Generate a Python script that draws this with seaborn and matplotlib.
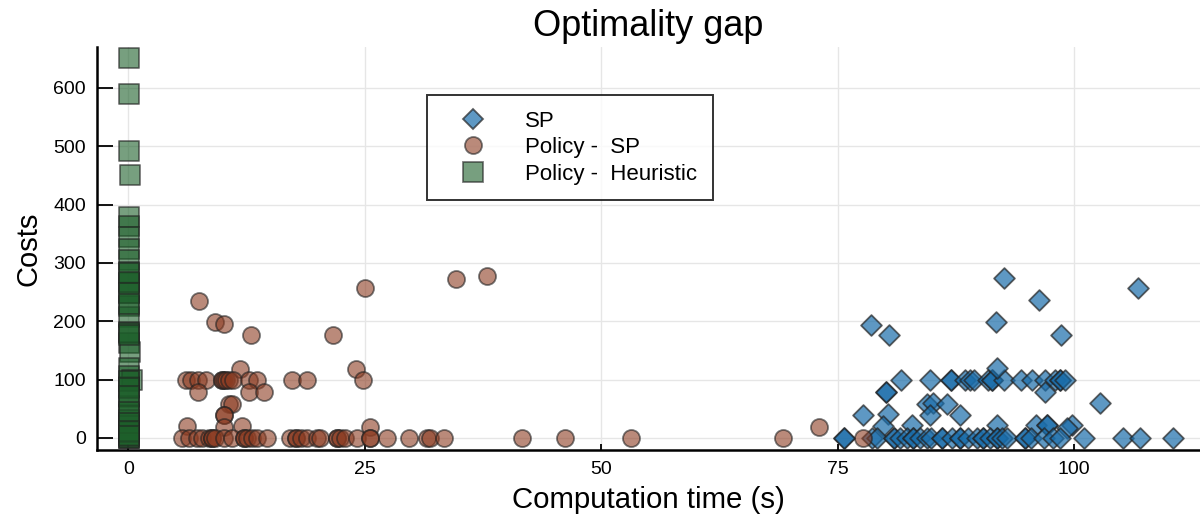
import matplotlib
matplotlib.use("Agg")
import matplotlib.pyplot as plt
from matplotlib.lines import Line2D
import pandas as pd
import seaborn as sns

# Stochastic programming solves: computation time (s) and cost gap
sp_time = [92.6, 106.7, 96.3, 78.5, 91.7, 80.4, 98.6,
           81.7, 84.7, 87.0, 87.0, 88.5, 89.0, 89.4, 90.9, 91.3, 91.3, 92.6, 94.4, 95.5,
           96.9, 98.0, 98.5, 98.5, 99.0,
           91.8, 80.1, 80.1, 96.9, 102.7, 84.4, 85.1, 86.5, 84.8, 87.9, 77.7, 80.3,
           79.8, 82.9, 91.8, 96.0, 97.1, 97.1, 99.8, 99.2,
           75.7, 75.7, 78.6, 79.1, 80.9, 80.9, 81.6, 82.3, 83.0, 83.0, 83.7, 84.4, 84.9,
           86.0, 86.0, 87.1, 87.9, 87.9, 88.8, 89.7, 90.4, 90.4, 91.1, 91.8, 91.8, 92.4,
           92.9, 94.8, 94.8, 95.4, 96.8, 97.8, 98.5, 101.0, 105.2, 107.0, 110.4]
sp_cost = [274, 257, 236, 194, 198, 177, 177,
           100, 100, 100, 100, 100, 100, 100, 100, 100, 100, 100, 100, 100,
           100, 100, 100, 100, 100,
           120, 79, 79, 78, 60, 58, 60, 58, 39, 39, 39, 41,
           21, 22, 22, 22, 22, 22, 22, 17,
           0, 0, 0, 0, 0, 0, 0, 0, 0, 0, 0, 0, 0,
           0, 0, 0, 0, 0, 0, 0, 0, 0, 0, 0, 0, 0,
           0, 0, 0, 0, 0, 0, 0, 0, 0, 0, 0]

# Policy evaluated against the stochastic program
pol_sp_time = [7.5, 9.2, 10.1, 13.0, 21.6, 25.0, 34.6, 37.9, 24.1, 24.8, 11.8,
               6.1, 6.6, 7.4, 8.2, 9.9, 9.9, 10.1, 10.3, 10.6, 11.1, 12.8, 13.6, 17.3, 18.9,
               7.4, 12.8, 14.3,
               10.6, 10.9, 10.1, 10.1,
               6.2, 10.1, 12.0, 25.5,
               5.7, 6.4, 7.3, 7.8, 8.5, 8.8, 8.8, 9.2, 10.1, 10.9, 12.2, 12.2, 12.5,
               13.1, 13.6, 14.7, 17.1, 17.7, 17.7, 18.2, 18.9, 19.9, 20.3, 22.1, 22.1,
               22.4, 22.9, 24.2, 25.5, 25.5, 27.3, 29.7, 31.6, 31.9, 33.4,
               41.6, 46.2, 53.1, 69.2, 73.0, 77.7]
pol_sp_cost = [235, 198, 195, 176, 176, 257, 273, 277, 118, 99, 119,
               99, 99, 99, 99, 99, 99, 99, 99, 99, 99, 99, 99, 99, 99,
               79, 79, 79,
               58, 58, 39, 39,
               21, 19, 21, 19,
               0, 0, 0, 0, 0, 0, 0, 0, 0, 0, 0, 0, 0,
               0, 0, 0, 0, 0, 0, 0, 0, 0, 0, 0, 0,
               0, 0, 0, 0, 0, 0, 0, 0, 0, 0,
               0, 0, 0, 0, 18, 0]

# Policy evaluated against the heuristic
heur_time = [0.1, 0.1, 0.1, 0.15, 0.1, 0.1, 0.1, 0.1, 0.1, 0.1, 0.1, 0.1, 0.1, 0.1,
             0.1, 0.1, 0.15, 0.1, 0.1, 0.4, 0.1, 0.1, 0.1, 0.1, 0.1, 0.1, 0.1, 0.1,
             0.1, 0.1, 0.1,
             0.1, 0.1, 0.1, 0.1, 0.1, 0.1, 0.1, 0.1, 0.1, 0.1, 0.1, 0.1, 0.1]
heur_cost = [652, 590, 492, 451, 378, 363, 345, 324, 305, 285, 266, 249, 226, 208,
             182, 163, 148, 120, 106, 100, 88, 70, 55, 40, 31, 20, 0, 0, 0, 5, 10,
             282, 268, 248, 230, 180, 176, 98, 85, 72, 45, 25, 12, 3]

series_names = ["SP", "Policy -  SP", "Policy -  Heuristic"]
x_ticks = [0, 25, 50, 75, 100]
y_ticks = [0, 100, 200, 300, 400, 500, 600]

df = pd.concat([
    pd.DataFrame({"time": sp_time, "cost": sp_cost, "series": series_names[0]}),
    pd.DataFrame({"time": pol_sp_time, "cost": pol_sp_cost, "series": series_names[1]}),
    pd.DataFrame({"time": heur_time, "cost": heur_cost, "series": series_names[2]}),
], ignore_index=True)

sns.set_style("white")
plt.rcParams["font.family"] = ["Liberation Sans", "DejaVu Sans"]
plt.rcParams["text.color"] = "black"
plt.rcParams["axes.labelcolor"] = "black"

fig = plt.figure(figsize=(12, 5.17), dpi=100)
ax = fig.add_axes([0.081, 0.1296, 0.919, 0.7794])

styles = {
    series_names[0]: dict(marker="D", s=112, color="#1a6daa"),
    series_names[1]: dict(marker="o", s=150, color="#8c3c22"),
    series_names[2]: dict(marker="s", s=200, color="#1d5f2a"),
}
alphas = {series_names[0]: 0.7, series_names[1]: 0.6, series_names[2]: 0.6}

handles = []
for name in series_names:
    st = styles[name]
    sns.scatterplot(data=df[df["series"] == name], x="time", y="cost", ax=ax,
                    marker=st["marker"], s=st["s"], color=st["color"],
                    edgecolor="#222222", linewidth=1.3, alpha=alphas[name],
                    legend=False, zorder=3)
    handles.append(Line2D([], [], linestyle="none", marker=st["marker"],
                          markersize=(st["s"] ** 0.5), markerfacecolor=st["color"],
                          markeredgecolor="#222222", markeredgewidth=1.3,
                          alpha=alphas[name], label=name))

ax.set_xlim(-3.3, 113.3)
ax.set_ylim(-20.6, 670)
ax.set_xticks(x_ticks)
ax.set_yticks(y_ticks)
ax.grid(True, color="#e6e6e6", linewidth=1.0, zorder=0)
ax.set_axisbelow(True)

for side in ("top", "right"):
    ax.spines[side].set_visible(False)
for side in ("left", "bottom"):
    ax.spines[side].set_color("black")
    ax.spines[side].set_linewidth(1.8)

ax.tick_params(axis="y", direction="in", length=11.5, width=1.3, colors="black",
               labelsize=14, pad=8, left=True)
ax.tick_params(axis="x", direction="in", length=4.5, width=1.3, colors="black",
               labelsize=14, pad=8, bottom=True)

ax.set_xlabel("Computation time (s)", fontsize=21.2, labelpad=6)
ax.set_ylabel("Costs", fontsize=21, labelpad=8)
ax.set_title("Optimality gap", fontsize=26, pad=8, color="black")

leg = ax.legend(handles=handles, loc="upper left", bbox_to_anchor=(0.299, 0.881),
                fontsize=16, frameon=True, fancybox=False, edgecolor="black",
                borderpad=0.7, handletextpad=0.97, labelspacing=0.25,
                borderaxespad=0, handlelength=2.75)
leg.get_frame().set_linewidth(1.4)

fig.savefig("out.png", dpi=100)
